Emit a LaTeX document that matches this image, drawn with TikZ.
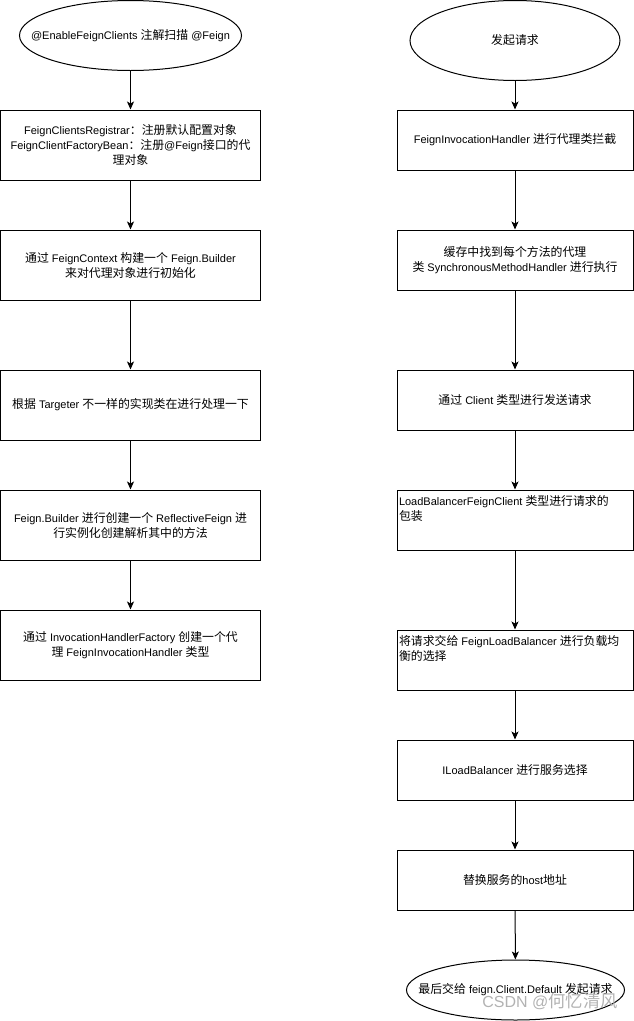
\documentclass[tikz,border=0pt]{standalone}
\usepackage{fontspec}
\setmainfont{Liberation Sans}
\newfontfamily\zhfont{Noto Sans CJK SC}[Scale=1.08]
\newcommand{\zh}[1]{{\zhfont #1}}
\newcommand{\etext}[1]{\makebox[0pt]{#1}}
\usetikzlibrary{arrows.meta,shapes.geometric}

\tikzstyle{box}=[draw=black,line width=1pt,rectangle,minimum width=236pt,minimum height=60pt,inner sep=1.5pt,align=center,font=\fontsize{11}{15}\selectfont]
\tikzstyle{lbox}=[box,minimum width=260pt,minimum height=70pt]
\tikzstyle{term}=[draw=black,line width=1pt,ellipse,inner sep=0pt,align=center,font=\fontsize{11}{15}\selectfont]
\tikzstyle{flow}=[line width=1pt,-{Stealth[length=8pt,width=7pt,inset=2pt]}]
\newcommand{\topbox}[1]{\parbox[c][52pt][t]{232pt}{\raggedright\vspace{1pt}#1}}

\begin{document}
\begin{tikzpicture}[x=1pt,y=-1pt]
    \useasboundingbox (0,0) rectangle (634,1021);

    % left column
    \node[term,minimum width=222pt,minimum height=70pt] (l0) at (130.5,35.5) {\etext{@EnableFeignClients \zh{注解扫描} @Feign}};
    \node[lbox] (l1) at (130.5,145) {FeignClientsRegistrar\zh{：注册默认配置对象}\\FeignClientFactoryBean\zh{：注册}@Feign\zh{接口的代}\\\zh{理对象}};
    \node[lbox] (l2) at (130.5,265) {\zh{通过} FeignContext \zh{构建一个} Feign.Builder\\\zh{来对代理对象进行初始化}};
    \node[lbox] (l3) at (130.5,405) {\zh{根据} Targeter \zh{不一样的实现类在进行处理一下}};
    \node[lbox] (l4) at (130.5,525) {Feign.Builder \zh{进行创建一个} ReflectiveFeign \zh{进}\\\zh{行实例化创建解析其中的方法}};
    \node[lbox] (l5) at (130.5,645) {\zh{通过} InvocationHandlerFactory \zh{创建一个代}\\\zh{理} FeignInvocationHandler \zh{类型}};

    \draw[flow] (l0) -- (l1);
    \draw[flow] (l1) -- (l2);
    \draw[flow] (l2) -- (l3);
    \draw[flow] (l3) -- (l4);
    \draw[flow] (l4) -- (l5);

    % right column
    \node[term,minimum width=210pt,minimum height=80pt] (r0) at (515,40.5) {\etext{\zh{发起请求}}};
    \node[box] (r1) at (515,140) {FeignInvocationHandler \zh{进行代理类拦截}};
    \node[box] (r2) at (515,260) {\zh{缓存中找到每个方法的代理}\\\zh{类} SynchronousMethodHandler \zh{进行执行}};
    \node[box] (r3) at (515,400) {\zh{通过} Client \zh{类型进行发送请求}};
    \node[box] (r4) at (515,520) {\topbox{LoadBalancerFeignClient \zh{类型进行请求的}\\\zh{包装}}};
    \node[box] (r5) at (515,660) {\topbox{\zh{将请求交给} FeignLoadBalancer \zh{进行负载均}\\\zh{衡的选择}}};
    \node[box] (r6) at (515,770) {ILoadBalancer \zh{进行服务选择}};
    \node[box] (r7) at (515,880) {\zh{替换服务的}host\zh{地址}};
    \node[term,minimum width=218pt,minimum height=60pt] (r8) at (515.5,990) {\etext{\zh{最后交给} feign.Client.Default \zh{发起请求}}};

    \draw[flow] (r0) -- (r1);
    \draw[flow] (r1) -- (r2);
    \draw[flow] (r2) -- (r3);
    \draw[flow] (r3) -- (r4);
    \draw[flow] (r4) -- (r5);
    \draw[flow] (r5) -- (r6);
    \draw[flow] (r6) -- (r7);
    \draw[flow] (r7) -- (r8);

    \node[text=black!30,font=\fontsize{16}{16}\selectfont] (mark) at (550,1001) {CSDN @\zh{何忆清风}};
\end{tikzpicture}
\end{document}
